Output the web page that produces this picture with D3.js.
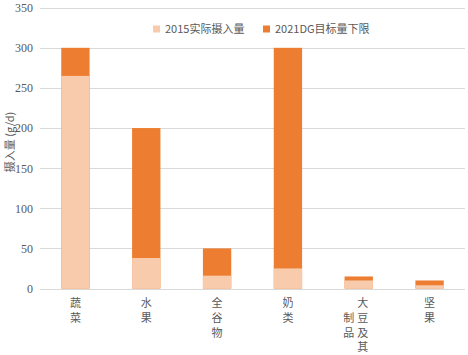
<!DOCTYPE html>
<html><head><meta charset="utf-8">
<script src="https://cdn.jsdelivr.net/npm/d3@7/dist/d3.min.js"></script>
<style>html,body{margin:0;padding:0;background:#fff;}</style>
</head><body>
<svg id="c" width="468" height="355"></svg>
<script>
const categories = ["蔬菜","水果","全谷物","奶类","大豆及其制品","坚果"];
const actual2015 = [265, 38, 16, 25, 10, 4];
const target2021 = [300, 200, 50, 300, 15, 10];
const seriesNames = ["2015实际摄入量","2021DG目标量下限"];
const yTicks = [0,50,100,150,200,250,300,350];
const colors = ["#F8CBAD","#ED7D31"];

(function(){
const svg = d3.select("#c");
const mLeft = 40, mRight = 465, mTop = 7.7, mBottom = 288.5;
const x = d3.scaleBand().domain(categories).range([mLeft,mRight]).paddingInner(0.6).paddingOuter(0.3);
const y = d3.scaleLinear().domain([0,350]).range([mBottom, mTop]);

// grid
svg.append("g").selectAll("line").data(yTicks).join("line")
  .attr("x1",mLeft).attr("x2",mRight)
  .attr("y1",d=>Math.round(y(d))+0.5).attr("y2",d=>Math.round(y(d))+0.5)
  .attr("stroke","#d9d9d9").attr("stroke-width",1);

// y tick labels
const yAxis = d3.axisLeft(y).tickValues(yTicks).tickSize(0).tickPadding(7);
const ga = svg.append("g").attr("transform",`translate(${mLeft},0)`).call(yAxis);
ga.select(".domain").remove();
ga.attr("font-family","'Liberation Serif', 'Times New Roman', serif");
ga.selectAll("text").attr("font-family","'Liberation Serif', 'Times New Roman', serif").attr("font-size","12px").attr("fill","#595959");

// bars: target (full) then actual overlay
svg.append("g").selectAll("rect").data(categories).join("rect")
  .attr("x",d=>x(d)).attr("width",x.bandwidth())
  .attr("y",(d,i)=>y(target2021[i])).attr("height",(d,i)=>y(0)-y(target2021[i]))
  .attr("fill",colors[1]);
svg.append("g").selectAll("rect").data(categories).join("rect")
  .attr("x",d=>x(d)).attr("width",x.bandwidth())
  .attr("y",(d,i)=>y(actual2015[i])).attr("height",(d,i)=>y(0)-y(actual2015[i]))
  .attr("fill",colors[0]);

// category labels (vertical, wrapping into columns of 4, right to left)
const lh = 14.8, firstY = 307;
categories.forEach(cat => {
  const chars = Array.from(cat);
  const cols = [];
  for (let i=0;i<chars.length;i+=4) cols.push(chars.slice(i,i+4));
  const maxLen = d3.max(cols, c=>c.length);
  const cx = x(cat) + x.bandwidth()/2;
  cols.forEach((col, ci) => {
    const colX = cols.length===1 ? cx : cx + 4 - ci*14;
    const off = (maxLen - col.length)/2;
    col.forEach((ch, k) => {
      svg.append("text").attr("x",colX).attr("y",firstY + (k+off)*lh)
        .attr("text-anchor","middle").attr("font-family","'Noto Sans CJK SC', sans-serif")
        .attr("font-size","11px").attr("fill","#595959").text(ch);
    });
  });
});

// y axis title
svg.append("text").attr("transform","translate(14,142) rotate(-90)")
  .attr("text-anchor","middle").attr("font-family","'Noto Sans CJK SC', sans-serif")
  .attr("font-size","11px").attr("fill","#595959").text("摄入量 (g/d)");

// legend
const legX = [153, 263];
seriesNames.forEach((s,i)=>{
  svg.append("rect").attr("x",legX[i]).attr("y",25.5).attr("width",7).attr("height",7).attr("fill",colors[i]);
  svg.append("text").attr("x",legX[i]+12).attr("y",33).attr("font-family","'Noto Sans CJK SC', sans-serif")
    .attr("font-size","11px").attr("fill","#595959").text(s);
});
})();
</script>
</body></html>
